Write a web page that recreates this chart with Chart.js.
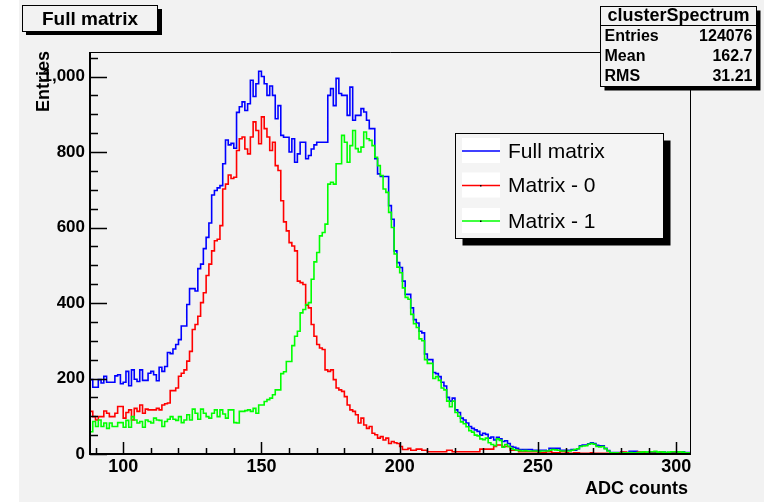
<!DOCTYPE html>
<html><head><meta charset="utf-8">
<script src="https://cdn.jsdelivr.net/npm/chart.js@4.4.0/dist/chart.umd.min.js"></script>
<style>html,body{margin:0;padding:0;background:#fff;}#wrap{width:764px;height:502px;position:relative}</style>
</head><body><div id="wrap"><canvas id="c" width="764" height="502"></canvas></div>
<script>
// ---- data ----
const binLow = 88;          // lower edge of first bin (ADC counts)
const binWidth = 1;
const xMin = 88, xMax = 305, yMin = 0, yMax = 1065;
const xTicks = [100, 150, 200, 250, 300];
const yTicks = [0, 200, 400, 600, 800, 1000];
const seriesLabels = ['Full matrix', 'Matrix - 0', 'Matrix - 1'];
const titleText = 'Full matrix';
const xTitle = 'ADC counts';
const yTitle = 'Entries';
const statsTitle = 'clusterSpectrum';
const statsNames = ['Entries', 'Mean', 'RMS'];
const statsValues = ['124076', '162.7', '31.21'];

const fullMatrix = [
197,197,177,177,197,188,206,190,190,190,207,210,186,190,219,181,223,198,192,223,195,
195,214,219,210,194,230,219,232,269,266,278,290,303,339,339,396,438,438,432,491,
503,544,574,612,686,698,705,711,769,832,819,823,810,905,920,933,910,928,990,947,
981,1014,1000,981,950,975,950,888,923,844,839,839,800,835,773,795,826,826,782,
791,808,819,826,826,826,826,950,968,923,995,955,950,950,897,972,884,897,897,915,
906,884,862,862,782,742,735,735,735,658,622,538,507,494,458,423,423,387,356,347,
325,321,265,250,250,216,213,205,190,180,150,140,148,117,110,95,90,82,73,68,
64,60,50,55,52,42,45,37,44,40,33,35,28,20,18,15,12,12,12,12,
12,10,10,10,10,10,8,15,15,15,15,10,10,10,10,12,10,14,22,24,
24,27,30,28,23,22,22,15,9,4,4,4,4,5,4,4,7,7,7,4,
3,4,3,5,4,3,4,4,5,4,3,4,3,6,6,6,4];

const matrix0 = [
100,113,99,90,99,99,114,108,99,99,108,126,126,95,110,117,90,121,113,130,108,
119,117,117,117,121,117,130,133,135,168,168,175,206,214,223,246,272,330,343,365,
401,427,473,503,538,565,569,605,702,715,739,730,733,804,835,840,808,795,840,880,
857,822,893,862,840,804,826,764,751,671,615,591,560,551,538,458,454,449,394,
387,343,312,290,281,277,223,219,223,197,175,170,166,152,130,117,113,104,82,95,
77,68,73,55,51,42,46,37,42,28,33,30,28,20,12,12,15,10,10,13,
13,10,10,6,6,6,6,6,6,6,10,10,6,6,6,6,6,6,6,6,
6,6,13,13,13,13,13,20,24,24,20,20,20,10,10,10,6,6,6,6,
6,6,6,3,3,4,6,6,3,3,3,6,6,3,2,2,3,3,2,2,
2,2,3,2,2,2,2,2,2,2,2,2,3,5,5,3,2,2,3,5,
5,3,2,2,2,2,2,2,3,3,2,2,2,2,2,2,2];

const matrix1 = [
90,59,86,73,90,73,82,68,82,73,73,83,83,71,89,71,99,90,82,86,71,
90,86,82,95,90,89,73,86,92,99,92,89,99,83,90,104,90,119,108,92,
119,108,99,95,108,117,99,117,106,95,117,117,83,82,113,113,115,117,113,121,
108,130,130,139,144,148,157,170,170,213,218,245,245,287,312,325,374,383,396,
401,463,509,534,578,587,609,715,720,715,769,769,844,826,773,817,857,809,800,813,
853,835,831,817,786,764,738,702,693,640,600,530,495,480,440,415,410,370,345,335,
305,300,250,240,240,200,205,195,175,170,140,125,140,110,100,85,80,72,62,58,
50,48,40,38,42,30,25,22,40,36,18,25,20,15,12,10,9,8,9,8,
8,8,8,7,8,8,8,10,12,11,10,8,8,8,8,10,12,14,20,21,
22,26,28,26,20,19,20,14,8,3,3,3,2,3,3,3,4,3,3,4,
5,6,5,6,6,7,5,6,5,4,5,6,6,5,6,5,3];

// ---- helpers ----
function histPoints(vals) {
  const pts = vals.map((v, i) => ({ x: binLow + i * binWidth, y: v }));
  pts.push({ x: binLow + vals.length * binWidth, y: vals[vals.length - 1] });
  return pts;
}
const FONT = "'Liberation Sans', Arial, Helvetica, sans-serif";
const BG = '#f2f2f2';
const colors = ['#0000ff', '#ff0000', '#00ff00'];

const rootPlugin = {
  id: 'rootStyle',
  beforeDraw(chart) {
    const ctx = chart.ctx;
    ctx.save();
    ctx.fillStyle = '#ffffff';
    ctx.fillRect(0, 0, chart.width, chart.height);
    ctx.fillStyle = BG;
    ctx.fillRect(19, 0, chart.width - 19, chart.height);
    ctx.restore();
  },
  afterDatasetsDraw(chart) {
    const ctx = chart.ctx, a = chart.chartArea;
    const xs = chart.scales.x, ys = chart.scales.y;
    ctx.save();
    ctx.strokeStyle = '#000';
    ctx.lineWidth = 1;
    ctx.beginPath();
    ctx.moveTo(a.left, a.top + 0.5); ctx.lineTo(a.right + 0.5, a.top + 0.5);
    ctx.lineTo(a.right + 0.5, a.bottom);
    ctx.stroke();
    ctx.lineWidth = 2;
    ctx.beginPath();
    ctx.moveTo(a.left, a.top); ctx.lineTo(a.left, a.bottom); ctx.lineTo(a.right + 1, a.bottom);
    ctx.stroke();
    ctx.lineWidth = 1.5;
    ctx.beginPath();
    for (let v = 90; v <= xMax; v += 10) {
      const px = Math.round(xs.getPixelForValue(v)) + 0.5;
      const len = xTicks.includes(v) ? 12 : 6;
      ctx.moveTo(px, a.bottom); ctx.lineTo(px, a.bottom - len);
    }
    for (let v = 0; v <= yMax; v += 50) {
      const py = Math.round(ys.getPixelForValue(v)) + 0.5;
      const len = yTicks.includes(v) ? 17 : 8;
      ctx.moveTo(a.left, py); ctx.lineTo(a.left + len, py);
    }
    ctx.stroke();
    ctx.restore();
  },
  afterDraw(chart) {
    const ctx = chart.ctx, a = chart.chartArea;
    ctx.save();
    ctx.fillStyle = '#000';
    ctx.font = 'bold 18px ' + FONT;
    ctx.textAlign = 'right'; ctx.textBaseline = 'alphabetic';
    ctx.fillText(xTitle, a.right - 2, 494);
    ctx.save();
    ctx.translate(49, a.top - 1);
    ctx.rotate(-Math.PI / 2);
    ctx.textAlign = 'right';
    ctx.fillText(yTitle, 0, 0);
    ctx.restore();

    // title box
    ctx.fillStyle = '#000';
    ctx.fillRect(26, 9, 136, 26);
    ctx.fillStyle = BG;
    ctx.fillRect(22.5, 5.5, 135, 26);
    ctx.strokeStyle = '#000'; ctx.lineWidth = 1;
    ctx.strokeRect(22.5, 5.5, 135, 26);
    ctx.fillStyle = '#000';
    ctx.font = 'bold 19px ' + FONT;
    ctx.textAlign = 'center'; ctx.textBaseline = 'middle';
    ctx.fillText(titleText, 90, 19.5);

    // stats box
    const sx = 600.5, sy = 6.5, sw = 156, sh = 80;
    ctx.fillStyle = '#000';
    ctx.fillRect(sx + 4, sy + 4, sw, sh);
    ctx.fillStyle = BG;
    ctx.fillRect(sx, sy, sw, sh);
    ctx.strokeRect(sx, sy, sw, sh);
    ctx.beginPath(); ctx.moveTo(sx, 25.5); ctx.lineTo(sx + sw, 25.5); ctx.stroke();
    ctx.fillStyle = '#000';
    ctx.font = 'bold 18px ' + FONT;
    ctx.textAlign = 'center'; ctx.textBaseline = 'middle';
    ctx.fillText(statsTitle, sx + sw / 2, 16.5);
    ctx.font = 'bold 16px ' + FONT;
    const rowY = [37, 57, 76.5];
    statsNames.forEach((n, i) => {
      ctx.textAlign = 'left';
      ctx.fillText(n, sx + 4, rowY[i]);
      ctx.textAlign = 'right';
      ctx.fillText(statsValues[i], sx + sw - 4, rowY[i]);
    });

    // legend
    const lx = 455.5, ly = 133.5, lw = 208, lh = 105;
    ctx.fillStyle = '#000';
    ctx.fillRect(lx + 7, ly + 7, lw, lh);
    ctx.fillStyle = '#f4f4f4';
    ctx.fillRect(lx, ly, lw, lh);
    ctx.strokeStyle = '#000'; ctx.lineWidth = 1;
    ctx.strokeRect(lx, ly, lw, lh);
    const entryY = [151, 185.5, 221];
    chart.data.datasets.forEach((ds, i) => {
      const cy = entryY[i];
      ctx.fillStyle = '#ffffff';
      ctx.fillRect(462, cy - 13, 38, 25);
      ctx.strokeStyle = ds.borderColor; ctx.lineWidth = 1.5;
      ctx.beginPath(); ctx.moveTo(462, cy); ctx.lineTo(500, cy); ctx.stroke();
      if (i > 0) { ctx.fillStyle = '#000'; ctx.fillRect(480, cy - 0.5, 1.5, 1.5); }
      ctx.fillStyle = '#000';
      ctx.font = '21px ' + FONT;
      ctx.textAlign = 'left'; ctx.textBaseline = 'middle';
      ctx.fillText(ds.label, 508, cy + 1);
    });
    ctx.restore();
  }
};

new Chart(document.getElementById('c'), {
  type: 'line',
  data: {
    datasets: [
      { label: seriesLabels[0], data: histPoints(fullMatrix), borderColor: colors[0], order: 3 },
      { label: seriesLabels[1], data: histPoints(matrix0), borderColor: colors[1], order: 2 },
      { label: seriesLabels[2], data: histPoints(matrix1), borderColor: colors[2], order: 1 }
    ].map(d => Object.assign(d, { borderWidth: 1.6, pointRadius: 0, stepped: 'after', fill: false, tension: 0 }))
  },
  options: {
    responsive: false, animation: false, devicePixelRatio: 1,
    layout: { padding: { left: 0, right: 74, top: 52, bottom: 0 } },
    plugins: { legend: { display: false }, tooltip: { enabled: false }, title: { display: false } },
    scales: {
      x: {
        type: 'linear', min: xMin, max: xMax,
        grid: { display: false, drawTicks: false }, border: { display: false },
        ticks: { color: '#000', font: { family: FONT, weight: 'bold', size: 18 }, padding: 2, maxRotation: 0, autoSkip: false },
        afterBuildTicks: s => { s.ticks = xTicks.map(v => ({ value: v })); },
        afterFit: s => { s.height = 48; }
      },
      y: {
        type: 'linear', min: yMin, max: yMax,
        grid: { display: false, drawTicks: false }, border: { display: false },
        ticks: { color: '#000', font: { family: FONT, weight: 'bold', size: 17 }, padding: 5, autoSkip: false },
        afterBuildTicks: s => { s.ticks = yTicks.map(v => ({ value: v })); },
        afterFit: s => { s.width = 90; }
      }
    }
  },
  plugins: [rootPlugin]
});
</script></body></html>
